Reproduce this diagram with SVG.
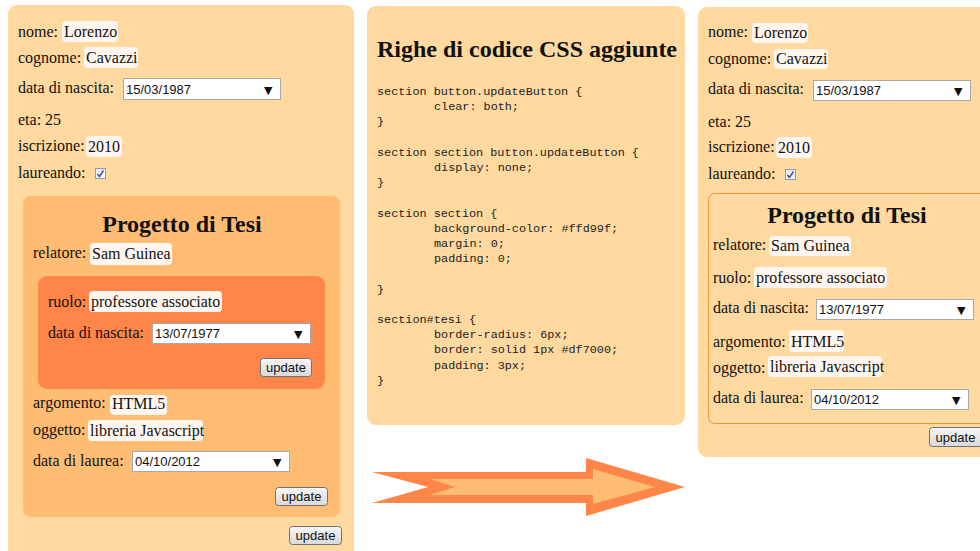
<svg xmlns="http://www.w3.org/2000/svg" width="980" height="551" viewBox="0 0 980 551">
  <defs>
    <linearGradient id="btnGrad" x1="0" y1="0" x2="0" y2="1">
      <stop offset="0" stop-color="#f7f7f7"/>
      <stop offset="1" stop-color="#d9d9d9"/>
    </linearGradient>
    <linearGradient id="chkGrad" x1="0" y1="0" x2="1" y2="1">
      <stop offset="0" stop-color="#dfe6f2"/>
      <stop offset="1" stop-color="#f8f9fc"/>
    </linearGradient>
    <style>
      .panel { fill: #ffd99f; }
      .tesi { fill: #ffbd74; }
      .rel { fill: #ff8548; }
      .lbl { font-family: "Liberation Serif", "Times New Roman", serif; font-size: 16px; fill: #111; }
      .ttl { font-family: "Liberation Serif", "Times New Roman", serif; font-size: 24px; font-weight: bold; fill: #111; }
      .val { fill: #fff7ef; }
      .sel { fill: #ffffff; stroke: #a9a9a9; stroke-width: 1; }
      .selt { font-family: "Liberation Sans", Arial, sans-serif; font-size: 13px; fill: #111; }
      .arr { font-family: "DejaVu Sans", sans-serif; font-size: 11px; fill: #111; }
      .btn { fill: url(#btnGrad); stroke: #707070; stroke-width: 1; }
      .btnt { font-family: "Liberation Sans", Arial, sans-serif; font-size: 13px; fill: #111; text-anchor: middle; }
      .chk { fill: url(#chkGrad); stroke: #8b9bbf; stroke-width: 1; }
      .tick { fill: none; stroke: #3a55a0; stroke-width: 1.5; }
      .code { font-family: "Liberation Mono", "Courier New", monospace; font-size: 11.8px; fill: #222; }
    </style>
  </defs>

  <rect width="980" height="551" fill="#ffffff"/>

  <!-- form before the change -->
  <g id="form-before">
    <rect class="panel" x="8" y="5" width="346" height="570" rx="9"/>
    <text class="lbl" x="18" y="37">nome:</text>
    <rect class="val" x="62" y="21" width="56" height="21" rx="4"/>
    <text class="lbl" x="64" y="37">Lorenzo</text>
    <text class="lbl" x="18" y="63">cognome:</text>
    <rect class="val" x="84" y="47" width="54" height="21" rx="4"/>
    <text class="lbl" x="86" y="63">Cavazzi</text>
    <text class="lbl" x="18" y="93">data di nascita:</text>
    <rect class="sel" x="123.5" y="78.5" width="157" height="21"/>
    <text class="selt" x="126" y="93.5">15/03/1987</text>
    <text class="arr" x="264" y="93.5">▼</text>
    <text class="lbl" x="18" y="125">eta: 25</text>
    <text class="lbl" x="18" y="151">iscrizione:</text>
    <rect class="val" x="86" y="136" width="36" height="21" rx="4"/>
    <text class="lbl" x="88" y="152">2010</text>
    <text class="lbl" x="18" y="178">laureando:</text>
    <rect class="chk" x="95.5" y="168.5" width="10" height="10"/>
    <path class="tick" d="M97.5 174 L99.5 176.5 L103.5 170.5"/>

    <rect class="tesi" x="23" y="196" width="317" height="321" rx="8"/>
    <text class="ttl" x="182" y="232" text-anchor="middle">Progetto di Tesi</text>
    <text class="lbl" x="33" y="258">relatore:</text>
    <rect class="val" x="90" y="243" width="82" height="22" rx="4"/>
    <text class="lbl" x="92" y="259">Sam Guinea</text>

    <rect class="rel" x="38" y="276" width="287" height="113" rx="9"/>
    <text class="lbl" x="48" y="307">ruolo:</text>
    <rect class="val" x="89" y="291" width="133" height="21" rx="4"/>
    <text class="lbl" x="91" y="307">professore associato</text>
    <text class="lbl" x="48" y="338">data di nascita:</text>
    <rect class="sel" x="152.5" y="323.5" width="158" height="20"/>
    <text class="selt" x="155" y="338">13/07/1977</text>
    <text class="arr" x="294" y="338">▼</text>
    <rect class="btn" x="260.5" y="358.5" width="51" height="18" rx="3"/>
    <text class="btnt" x="286" y="372">update</text>

    <text class="lbl" x="33" y="408">argomento:</text>
    <rect class="val" x="110" y="395" width="57" height="20" rx="4"/>
    <text class="lbl" x="112" y="409">HTML5</text>
    <text class="lbl" x="33" y="435">oggetto:</text>
    <rect class="val" x="88" y="420" width="115" height="21" rx="4"/>
    <text class="lbl" x="90" y="436">libreria Javascript</text>
    <text class="lbl" x="33" y="466">data di laurea:</text>
    <rect class="sel" x="132.5" y="451.5" width="157" height="20"/>
    <text class="selt" x="135" y="466">04/10/2012</text>
    <text class="arr" x="273" y="466">▼</text>
    <rect class="btn" x="275.5" y="487.5" width="52" height="18" rx="3"/>
    <text class="btnt" x="301.5" y="501">update</text>

    <rect class="btn" x="289.5" y="526.5" width="52" height="18" rx="3"/>
    <text class="btnt" x="315.5" y="540">update</text>
  </g>

  <!-- added CSS rules -->
  <g id="css-rules">
    <rect class="panel" x="367" y="6" width="318" height="419" rx="9"/>
    <text class="ttl" x="377" y="57">Righe di codice CSS aggiunte</text>
    <text class="code" x="377" y="95">section button.updateButton {</text>
    <text class="code" x="434" y="110.2">clear: both;</text>
    <text class="code" x="377" y="125.4">}</text>
    <text class="code" x="377" y="155.8">section section button.updateButton {</text>
    <text class="code" x="434" y="171">display: none;</text>
    <text class="code" x="377" y="186.2">}</text>
    <text class="code" x="377" y="216.6">section section {</text>
    <text class="code" x="434" y="231.8">background-color: #ffd99f;</text>
    <text class="code" x="434" y="247">margin: 0;</text>
    <text class="code" x="434" y="262.2">padding: 0;</text>
    <text class="code" x="377" y="292.6">}</text>
    <text class="code" x="377" y="323">section#tesi {</text>
    <text class="code" x="434" y="338.2">border-radius: 6px;</text>
    <text class="code" x="434" y="353.4">border: solid 1px #df7000;</text>
    <text class="code" x="434" y="368.6">padding: 3px;</text>
    <text class="code" x="377" y="383.8">}</text>
  </g>

  <!-- form after the change -->
  <g id="form-after">
    <rect class="panel" x="698" y="7" width="300" height="450" rx="9"/>
    <text class="lbl" x="708" y="37">nome:</text>
    <rect class="val" x="752" y="23" width="56" height="20" rx="4"/>
    <text class="lbl" x="754" y="38">Lorenzo</text>
    <text class="lbl" x="708" y="64">cognome:</text>
    <rect class="val" x="774" y="49" width="54" height="20" rx="4"/>
    <text class="lbl" x="776" y="64">Cavazzi</text>
    <text class="lbl" x="708" y="94">data di nascita:</text>
    <rect class="sel" x="813.5" y="80.5" width="157" height="20"/>
    <text class="selt" x="816" y="95">15/03/1987</text>
    <text class="arr" x="954" y="95">▼</text>
    <text class="lbl" x="708" y="127">eta: 25</text>
    <text class="lbl" x="708" y="152">iscrizione:</text>
    <rect class="val" x="776" y="137" width="36" height="21" rx="4"/>
    <text class="lbl" x="778" y="153">2010</text>
    <text class="lbl" x="708" y="179">laureando:</text>
    <rect class="chk" x="785.5" y="169.5" width="10" height="10"/>
    <path class="tick" d="M787.5 175 L789.5 177.5 L793.5 171.5"/>

    <rect x="708.5" y="193.5" width="290" height="230" rx="6" fill="none" stroke="#eb9433" stroke-width="1"/>
    <text class="ttl" x="847" y="223" text-anchor="middle">Progetto di Tesi</text>
    <text class="lbl" x="713" y="250">relatore:</text>
    <rect class="val" x="769" y="236" width="82" height="20" rx="4"/>
    <text class="lbl" x="771" y="251">Sam Guinea</text>
    <text class="lbl" x="713" y="283">ruolo:</text>
    <rect class="val" x="754" y="267" width="133" height="21" rx="4"/>
    <text class="lbl" x="756" y="283">professore associato</text>
    <text class="lbl" x="713" y="313">data di nascita:</text>
    <rect class="sel" x="816.5" y="299.5" width="157" height="20"/>
    <text class="selt" x="819" y="314">13/07/1977</text>
    <text class="arr" x="957" y="314">▼</text>
    <text class="lbl" x="713" y="347">argomento:</text>
    <rect class="val" x="789" y="330" width="55" height="22" rx="4"/>
    <text class="lbl" x="791" y="347">HTML5</text>
    <text class="lbl" x="713" y="373">oggetto:</text>
    <rect class="val" x="768" y="356" width="114" height="21" rx="4"/>
    <text class="lbl" x="770" y="372">libreria Javascript</text>
    <text class="lbl" x="713" y="403">data di laurea:</text>
    <rect class="sel" x="811.5" y="389.5" width="157" height="20"/>
    <text class="selt" x="814" y="404">04/10/2012</text>
    <text class="arr" x="952" y="404">▼</text>
    <rect class="btn" x="929.5" y="427.5" width="54" height="19" rx="3"/>
    <text class="btnt" x="955.5" y="441.5">update</text>
  </g>

  <!-- arrow from the old form to the new one -->
  <g id="connectors">
    <polygon fill="#ff8548" points="372,472 586,472 586,458 685,487 586,516 586,503 372,503 428,487"/>
    <polygon fill="#ffbd74" points="430,479 593,479 593,469 655,487 593,504 593,495 430,495 455,487"/>
  </g>
</svg>
